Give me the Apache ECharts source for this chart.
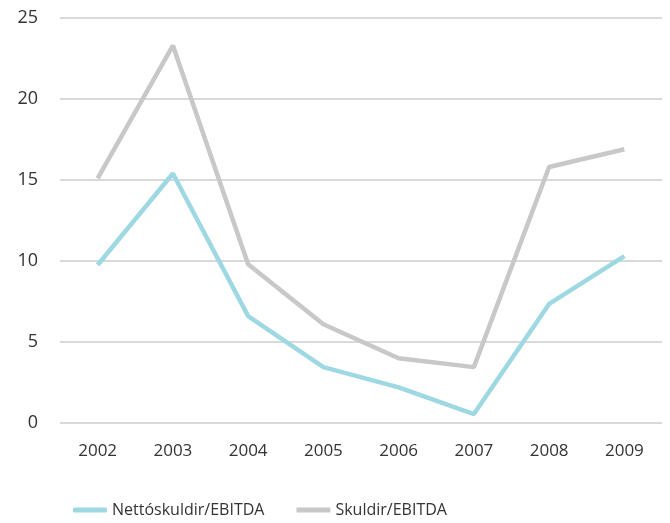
<!DOCTYPE html>
<html>
<head>
<meta charset="utf-8">
<script src="https://cdn.jsdelivr.net/npm/echarts@6/dist/echarts.min.js"></script>
<style>
  html, body { margin: 0; padding: 0; background: #fff; }
  #chart { width: 670px; height: 523px; }
</style>
</head>
<body>
<div id="chart"></div>
<script>
const years = ['2002', '2003', '2004', '2005', '2006', '2007', '2008', '2009']
const nettoSkuldir = [9.75, 15.4, 6.6, 3.45, 2.2, 0.55, 7.35, 10.3]
const skuldir = [15.1, 23.3, 9.8, 6.1, 4.0, 3.45, 15.8, 16.9]

const font = '"Open Sans", "Noto Sans", sans-serif'
const c = echarts.init(document.getElementById('chart'))
c.setOption({
  animation: false,
  grid: { left: 60, right: 8, top: 18, bottom: 100 },
  legend: {
    bottom: 0, left: 68, itemGap: 32, itemWidth: 34, itemHeight: 5,
    icon: 'roundRect',
    textStyle: { color: '#333', fontSize: 16, fontFamily: font },
    data: ['Nettóskuldir/EBITDA', 'Skuldir/EBITDA'],
  },
  xAxis: {
    type: 'category', data: years, boundaryGap: true,
    axisLine: { show: false }, axisTick: { show: false },
    axisLabel: { color: '#333', fontSize: 17, fontFamily: font, margin: 20 },
  },
  yAxis: {
    type: 'value', min: 0, max: 25, interval: 5,
    axisLabel: { color: '#333', fontSize: 18, fontFamily: font, margin: 22 },
    splitLine: { lineStyle: { color: '#d9d9d9', width: 2 } },
  },
  series: [
    {
      name: 'Nettóskuldir/EBITDA', type: 'line', data: nettoSkuldir, showSymbol: false,
      lineStyle: { color: '#9ed9e3', width: 4.5 }, itemStyle: { color: '#9ed9e3' },
    },
    {
      name: 'Skuldir/EBITDA', type: 'line', data: skuldir, showSymbol: false,
      lineStyle: { color: '#c8c8c8', width: 4.5 }, itemStyle: { color: '#c8c8c8' },
    },
  ],
})
</script>
</body>
</html>
